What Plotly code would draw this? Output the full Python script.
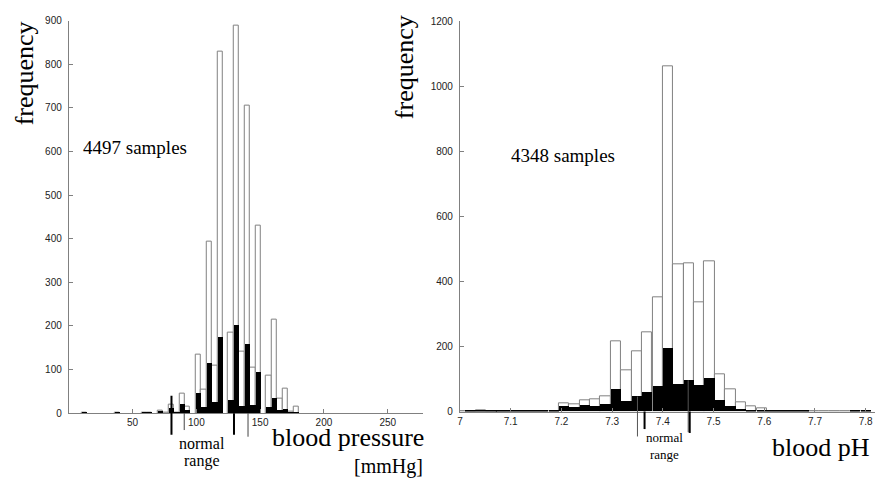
import plotly.graph_objects as go

W, H = 875, 482

# ---------------- data: blood pressure histogram ----------------
bp_centers = [12.3, 37.8, 59.1, 63.3, 71.8, 76.1, 80.3, 84.6, 88.8, 93.1,
              101.6, 105.9, 110.1, 114.4, 118.6, 127.1, 131.4, 135.6, 139.9,
              144.1, 148.4, 156.9, 161.1, 165.4, 169.6, 173.9, 178.2]
bp_total = [2, 2, 2, 2, 6, 2, 19, 2, 45, 16,
            135, 54, 393, 108, 828, 185, 889, 142, 705,
            104, 430, 87, 215, 34, 57, 4, 16]
bp_subset = [2, 2, 2, 2, 6, 1, 13, 2, 23, 7,
             47, 16, 116, 26, 175, 31, 202, 17, 160,
             19, 96, 16, 36, 8, 10, 2, 2]
bp_bin_width = 4.25
bp_thick_marks = [80.5, 129.5]
bp_thin_marks = [90.5, 140.5]
bp_ticks = [50, 100, 150, 200, 250]
bp_yticks = [0, 100, 200, 300, 400, 500, 600, 700, 800, 900]

# ---------------- data: blood pH histogram ----------------
ph_centers = [7.000, 7.021, 7.041, 7.062, 7.082, 7.103, 7.123, 7.144, 7.164, 7.185,
              7.205, 7.226, 7.246, 7.267, 7.287, 7.308, 7.328, 7.349, 7.369, 7.390,
              7.410, 7.431, 7.451, 7.472, 7.492, 7.513, 7.533, 7.554, 7.574, 7.595,
              7.615, 7.636, 7.656, 7.677, 7.697, 7.718, 7.738, 7.759, 7.779, 7.800]
ph_total = [0, 2, 4, 1, 1, 1, 1, 2, 2, 2,
            25, 22, 34, 37, 48, 215, 126, 186, 244, 351,
            1062, 452, 456, 336, 463, 113, 69, 29, 16, 11,
            2, 2, 2, 1, 0, 0, 0, 0, 1, 1]
ph_subset = [0, 1, 3, 1, 1, 1, 1, 2, 2, 2,
             16, 14, 20, 16, 21, 69, 31, 46, 59, 76,
             194, 84, 96, 81, 102, 34, 16, 8, 4, 2,
             1, 1, 1, 1, 0, 0, 0, 0, 1, 1]
ph_bin_width = 0.0205
ph_thick_marks = [7.364, 7.453]
ph_thin_marks = [7.35, 7.45]
ph_ticks = [7, 7.1, 7.2, 7.3, 7.4, 7.5, 7.6, 7.7, 7.8]
ph_ticktext = ["7", "7.1", "7.2", "7.3", "7.4", "7.5", "7.6", "7.7", "7.8"]
ph_yticks = [0, 200, 400, 600, 800, 1000, 1200]

SERIF = "Liberation Serif, Times New Roman, serif"
SANS = "Liberation Sans, Arial, sans-serif"
GREY = "#808080"

fig = go.Figure()

fig.add_trace(go.Bar(x=bp_centers, y=bp_total, width=bp_bin_width,
                     marker=dict(color="white", line=dict(color=GREY, width=1)),
                     xaxis="x", yaxis="y", showlegend=False))
fig.add_trace(go.Bar(x=bp_centers, y=bp_subset, width=bp_bin_width,
                     marker=dict(color="black", line=dict(width=0)),
                     xaxis="x", yaxis="y", showlegend=False))
fig.add_trace(go.Bar(x=ph_centers, y=ph_total, width=ph_bin_width,
                     marker=dict(color="white", line=dict(color=GREY, width=1)),
                     xaxis="x2", yaxis="y2", showlegend=False))
fig.add_trace(go.Bar(x=ph_centers, y=ph_subset, width=ph_bin_width,
                     marker=dict(color="black", line=dict(width=0)),
                     xaxis="x2", yaxis="y2", showlegend=False))


def px_x(p):
    return p / W


def px_y(p):
    return 1 - p / H


axis_common = dict(showgrid=False, zeroline=False, showline=True, linecolor=GREY,
                   linewidth=1, ticks="inside", ticklen=4, tickcolor=GREY,
                   tickfont=dict(family=SANS, size=10, color="#222"))

fig.update_layout(
    width=W, height=H,
    margin=dict(l=0, r=0, t=0, b=0),
    paper_bgcolor="white", plot_bgcolor="white",
    barmode="overlay", bargap=0,
    xaxis=dict(domain=[px_x(66), px_x(421)], range=[0, 277.3], anchor="y",
               tickvals=bp_ticks, **axis_common),
    yaxis=dict(domain=[px_y(417.7), px_y(16)], range=[0, 900], anchor="x",
               tickvals=bp_yticks, ticklabelstandoff=4, **axis_common),
    xaxis2=dict(domain=[px_x(458.5), 1.0], range=[7.0, 7.8183], anchor="y2",
                tickvals=ph_ticks, ticktext=ph_ticktext, **axis_common),
    yaxis2=dict(domain=[px_y(416), px_y(16.7)], range=[0, 1200], anchor="x2",
                tickvals=ph_yticks, ticklabelstandoff=4, **axis_common),
)


def add_mark(xref, yref, x, top, bottom, width, color):
    fig.add_shape(type="line", xref=xref, yref=yref, x0=x, x1=x, y0=top, y1=bottom,
                  line=dict(color=color, width=width), layer="above")

# normal range markers
add_mark("x", "y domain", bp_thick_marks[0], 40 / 900, -0.055, 2, "black")
add_mark("x", "y domain", bp_thick_marks[1], 0.0, -0.055, 2, "black")
add_mark("x", "y domain", bp_thin_marks[0], 0.0, -0.043, 1, "#444")
add_mark("x", "y domain", bp_thin_marks[1], 0.0, -0.060, 1, "#444")

add_mark("x2", "y2 domain", ph_thin_marks[0], 46 / 1200, -0.064, 1, "#555")
add_mark("x2", "y2 domain", ph_thin_marks[1], 96 / 1200, -0.053, 1, "#555")
add_mark("x2", "y2 domain", ph_thick_marks[0], 0.0, -0.045, 2, "black")
add_mark("x2", "y2 domain", ph_thick_marks[1], 0.0, -0.055, 2, "black")


def note(text, x, y, size, angle=0, xanchor="center"):
    fig.add_annotation(text=text, xref="paper", yref="paper", x=px_x(x), y=px_y(y),
                       xanchor=xanchor, yanchor="middle", showarrow=False,
                       textangle=angle, font=dict(family=SERIF, size=size, color="black"))

note("frequency", 21, 70, 26, angle=-90)
note("frequency", 403, 64, 26, angle=-90)
note("4497 samples", 78, 146, 19, xanchor="left")
note("4348 samples", 508, 154, 19, xanchor="left")
note("blood pressure", 424, 443, 26, xanchor="right")
note("[mmHg]", 423, 472, 20, xanchor="right")
note("normal", 199.5, 449, 16)
note("range", 199.5, 467, 16)
note("blood pH", 872, 453, 26, xanchor="right")
note("normal", 663.5, 443, 13)
note("range", 663.5, 460, 13)

fig.write_html("out.html", config={"displayModeBar": False},
               post_script="document.body.style.margin='0px';document.body.style.overflow='hidden';")
